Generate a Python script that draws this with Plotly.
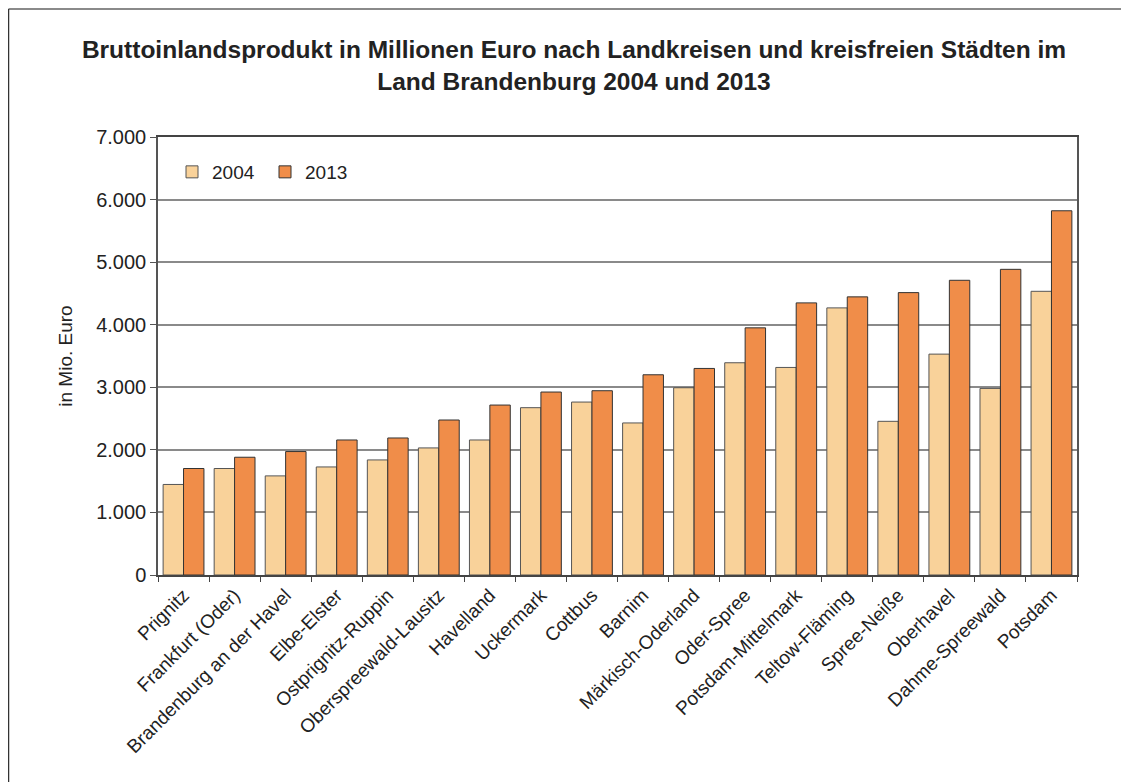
import plotly.graph_objects as go

# Landkreise / kreisfreie Städte, sortiert nach BIP 2013
kreise = [
    "Prignitz", "Frankfurt (Oder)", "Brandenburg an der Havel", "Elbe-Elster",
    "Ostprignitz-Ruppin", "Oberspreewald-Lausitz", "Havelland", "Uckermark",
    "Cottbus", "Barnim", "Märkisch-Oderland", "Oder-Spree", "Potsdam-Mittelmark",
    "Teltow-Fläming", "Spree-Neiße", "Oberhavel", "Dahme-Spreewald", "Potsdam",
]
bip_2004 = [1447, 1702, 1584, 1727, 1839, 2031, 2158, 2674, 2764,
            2430, 2993, 3392, 3317, 4269, 2456, 3530, 2982, 4534]
bip_2013 = [1702, 1882, 1973, 2158, 2190, 2477, 2716, 2924, 2945,
            3200, 3301, 3950, 4349, 4445, 4513, 4710, 4885, 5821]
y_ticks = [0, 1000, 2000, 3000, 4000, 5000, 6000, 7000]

FONT = "Liberation Sans, Arial, sans-serif"

# page has an 8px body margin, so figure coords = page coords - 8
W, H = 1121, 774
L, R, T, B = 150, 1069, 129, 567

fig = go.Figure()
fig.add_trace(go.Bar(x=kreise, y=bip_2004, name="2004",
                     marker=dict(color="#F9D29A", line=dict(color="#555555", width=1))))
fig.add_trace(go.Bar(x=kreise, y=bip_2013, name="2013",
                     marker=dict(color="#F08D49", line=dict(color="#333333", width=1))))

# Rahmen um das ganze Bild (links und oben sichtbar)
def px(xp): return (xp - L) / (R - L)
def py(yp): return (B - yp) / (B - T)
fig.add_shape(type="line", xref="paper", yref="paper", x0=px(0.5), x1=px(W), y0=py(1), y1=py(1),
              line=dict(color="#8a8a8a", width=2))
fig.add_shape(type="line", xref="paper", yref="paper", x0=px(0.5), x1=px(0.5), y0=py(1), y1=py(H),
              line=dict(color="#333333", width=1.5))

fig.update_layout(
    width=W, height=H,
    margin=dict(l=L, r=W - R, t=T, b=H - B),
    paper_bgcolor="white", plot_bgcolor="white",
    font=dict(family=FONT, size=19, color="#222222"),
    separators=",.",
    barmode="group", bargap=0.2, bargroupgap=0,
    title=dict(
        text="Bruttoinlandsprodukt in Millionen Euro nach Landkreisen und kreisfreien Städten im<br>Land Brandenburg 2004 und 2013",
        x=(574 - 8) / W, xanchor="center", y=1 - 50 / H, yanchor="top",
        font=dict(family=FONT, size=24.5, color="#222222", weight="bold"),
    ),
    legend=dict(orientation="h", x=px(172 - 8), y=py(153 - 8), xanchor="left", yanchor="top",
                font=dict(size=19), bgcolor="rgba(0,0,0,0)", traceorder="normal",
                entrywidth=48),
    showlegend=True,
)
fig.update_xaxes(
    type="category", tickangle=-45, tickson="boundaries",
    ticks="outside", ticklen=5, tickcolor="#444444",
    showline=True, linecolor="#444444", linewidth=1.5, mirror=True,
    showgrid=False, tickfont=dict(size=19),
)
fig.update_yaxes(
    range=[0, 7000], tickvals=y_ticks, tickformat=",d",
    ticks="outside", ticklen=6, tickcolor="#555555",
    showline=True, linecolor="#555555", linewidth=1.5, mirror=True,
    showgrid=True, gridcolor="#8a8a8a", gridwidth=1.5, zeroline=False,
    title=dict(text="in Mio. Euro", font=dict(size=19), standoff=19),
    tickfont=dict(size=20),
)

fig.write_html("out.html")
